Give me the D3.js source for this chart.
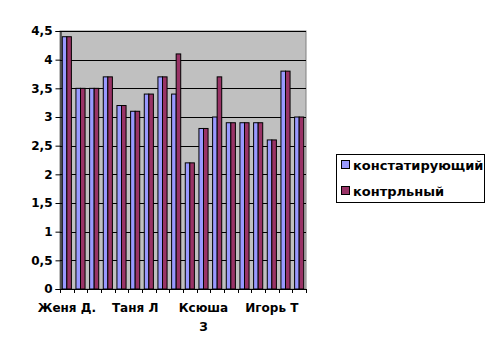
<!DOCTYPE html>
<html><head><meta charset="utf-8">
<script src="https://cdn.jsdelivr.net/npm/d3@7/dist/d3.min.js"></script>
<style>body{margin:0;background:#fff}svg{display:block}</style>
</head><body>
<svg id="c" width="493" height="359"></svg>
<script>
const categories = ["Женя Д.","","","","","Таня Л","","","","","Ксюша З","","","","","Игорь Т","",""];
const seriesNames = ["констатирующий","контрльный"];
const constat = [4.4,3.5,3.5,3.7,3.2,3.1,3.4,3.7,3.4,2.2,2.8,3.0,2.9,2.9,2.9,2.6,3.8,3.0];
const control = [4.4,3.5,3.5,3.7,3.2,3.1,3.4,3.7,4.1,2.2,2.8,3.7,2.9,2.9,2.9,2.6,3.8,3.0];
const yTicks = [0,0.5,1,1.5,2,2.5,3,3.5,4,4.5];
const colors = ["#9999FF","#993366"];

const svg = d3.select("#c");
const L=60,R=306,T=31,B=289;
const idx = categories.map((d,i)=>i);
const x = d3.scaleBand().domain(idx).range([L,R]).paddingInner(0).paddingOuter(0);
const y = d3.scaleLinear().domain([0,4.5]).range([B,T]);
const font = "'DejaVu Sans', Verdana, sans-serif";

svg.append("rect").attr("x",L).attr("y",T).attr("width",R-L).attr("height",B-T)
  .attr("fill","#C0C0C0").attr("stroke","#808080").attr("stroke-width",1);

svg.append("g").selectAll("line").data(yTicks.filter(d=>d>0)).join("line")
  .attr("x1",L).attr("x2",R).attr("y1",d=>Math.round(y(d))+0.5).attr("y2",d=>Math.round(y(d))+0.5)
  .attr("stroke","#000").attr("stroke-width",1);

const bw = x.bandwidth()/3;
const series = [constat, control];
series.forEach((vals,s)=>{
  svg.append("g").selectAll("rect").data(vals).join("rect")
    .attr("x",(d,i)=>x(i)+bw/2+s*bw)
    .attr("y",d=>y(d))
    .attr("width",bw)
    .attr("height",d=>B-y(d))
    .attr("fill",colors[s]).attr("stroke","#000").attr("stroke-width",1);
});

const ya = d3.axisLeft(y).tickValues(yTicks).tickSize(5).tickPadding(3)
  .tickFormat(d=>String(d).replace(".",","));
const gy = svg.append("g").attr("transform",`translate(${L+0.5},0)`).call(ya);
gy.selectAll("text").attr("font-family",font).attr("font-weight","bold").attr("font-size","12px").attr("fill","#000");
gy.selectAll("line").attr("stroke","#000");
gy.select(".domain").attr("stroke","#000");

// x axis
svg.append("line").attr("x1",L).attr("x2",R).attr("y1",B+0.5).attr("y2",B+0.5).attr("stroke","#000");
svg.append("g").selectAll("line").data(idx.concat([idx.length])).join("line")
  .attr("x1",i=>Math.round(L+i*x.step())+0.5).attr("x2",i=>Math.round(L+i*x.step())+0.5)
  .attr("y1",B).attr("y2",B+4).attr("stroke","#000");

const xl = svg.append("g");
categories.forEach((c,i)=>{
  if(!c) return;
  const parts = c==="Ксюша З" ? ["Ксюша","З"] : [c];
  const t = xl.append("text").attr("x",x(i)+x.bandwidth()/2).attr("y",312)
    .attr("text-anchor","middle").attr("font-family",font).attr("font-weight","bold").attr("font-size","12px");
  parts.forEach((p,k)=>t.append("tspan").attr("x",x(i)+x.bandwidth()/2).attr("dy",k?19:0).text(p));
});

// legend
const lg = svg.append("g");
lg.append("rect").attr("x",336.5).attr("y",154.5).attr("width",148).attr("height",48)
  .attr("fill","#fff").attr("stroke","#000");
seriesNames.forEach((n,k)=>{
  const cy = 165+k*26;
  lg.append("rect").attr("x",341.5).attr("y",cy-4.5).attr("width",8).attr("height",8)
    .attr("fill",colors[k]).attr("stroke","#000");
  lg.append("text").attr("x",353).attr("y",cy+4.5).attr("font-family",font).attr("font-weight","bold")
    .attr("font-size","13px").text(n);
});
</script>
</body></html>
